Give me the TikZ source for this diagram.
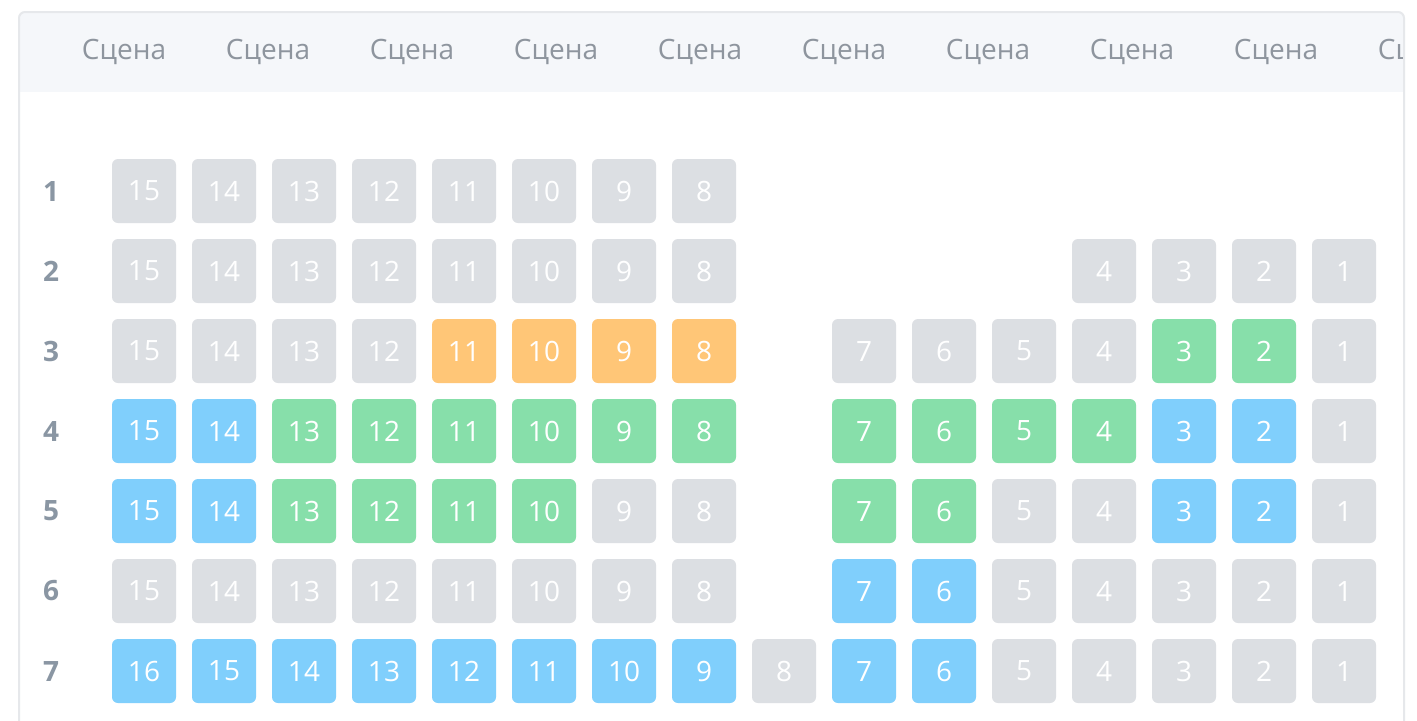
\documentclass[tikz,border=0pt]{standalone}
\usepackage{fontspec}
\setmainfont{Open Sans}
\definecolor{seatgray}{HTML}{DCDFE3}
\definecolor{seatorange}{HTML}{FFC677}
\definecolor{seatgreen}{HTML}{87DFAA}
\definecolor{seatblue}{HTML}{80CFFC}
\definecolor{headbg}{HTML}{F5F7FA}
\definecolor{frameline}{HTML}{E6E8EB}
\definecolor{rowtext}{HTML}{8A96A3}
\definecolor{headtext}{HTML}{8E959E}
\tikzset{
  seat/.style={rounded corners=3pt,minimum size=32pt,inner sep=0pt,text=white,font=\fontsize{14}{16}\selectfont},
  g/.style={seat,fill=seatgray},
  o/.style={seat,fill=seatorange},
  n/.style={seat,fill=seatgreen},
  b/.style={seat,fill=seatblue},
  rowlabel/.style={text=rowtext,font=\fontsize{14}{16}\selectfont\bfseries},
  stagelabel/.style={text=headtext,font=\fontsize{14}{16}\selectfont}
}
\begin{document}
\begin{tikzpicture}[x=0.5pt,y=-0.5pt]
\useasboundingbox (0,0) rectangle (1417,720);
\fill[white] (0,0) rectangle (1417,720);
% header band, clipped to the card
\begin{scope}
\clip[rounded corners=3pt] (19,760) -- (19,12) -- (1404,12) -- (1404,760);
\fill[headbg] (19,12) rectangle (1404,92);
\foreach \i in {-1,...,9}
  \node[stagelabel] (stage\i) at (124+144*\i,52) {Сцена};
\end{scope}
\draw[frameline,line width=1pt,rounded corners=3pt] (19,760) -- (19,12) -- (1404,12) -- (1404,760);
% row numbers
\foreach \r in {1,...,7}
  \node[rowlabel] (row\r) at (51,111+80*\r) {\r};
% seats: column/colour
\foreach \r/\list in {
  1/{1/g,2/g,3/g,4/g,5/g,6/g,7/g,8/g},
  2/{1/g,2/g,3/g,4/g,5/g,6/g,7/g,8/g,13/g,14/g,15/g,16/g},
  3/{1/g,2/g,3/g,4/g,5/o,6/o,7/o,8/o,10/g,11/g,12/g,13/g,14/n,15/n,16/g},
  4/{1/b,2/b,3/n,4/n,5/n,6/n,7/n,8/n,10/n,11/n,12/n,13/n,14/b,15/b,16/g},
  5/{1/b,2/b,3/n,4/n,5/n,6/n,7/g,8/g,10/n,11/n,12/g,13/g,14/b,15/b,16/g},
  6/{1/g,2/g,3/g,4/g,5/g,6/g,7/g,8/g,10/b,11/b,12/g,13/g,14/g,15/g,16/g},
  7/{1/b,2/b,3/b,4/b,5/b,6/b,7/b,8/b,9/g,10/b,11/b,12/g,13/g,14/g,15/g,16/g}}
  \foreach \c/\k in \list {
    \pgfmathtruncatemacro{\num}{17-\c-((\r<7)&&(\c<9))}
    \node[\k] (seat-\r-\c) at (64+80*\c,111+80*\r) {\num};
  }
\end{tikzpicture}
\end{document}
